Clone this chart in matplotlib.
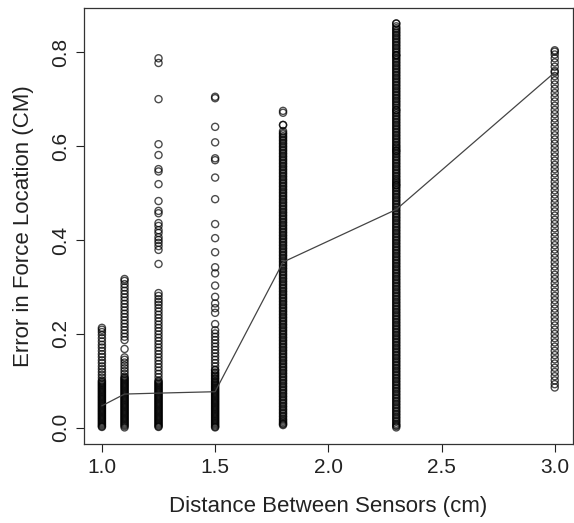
import matplotlib
matplotlib.use("Agg")
import matplotlib.pyplot as plt

plt.rcParams['font.family'] = ['Liberation Sans', 'DejaVu Sans']

# sensor spacing groups (cm) and the error values
spacing = [1.0, 1.1, 1.25, 1.5, 1.8, 2.3, 3.0]
mean_error = [0.047, 0.072, 0.074, 0.077, 0.353, 0.465, 0.757]

err_10 = [0.213, 0.209, 0.204, 0.198, 0.191, 0.184, 0.177, 0.171, 0.164, 0.157,
          0.151, 0.144, 0.138, 0.131, 0.125, 0.119, 0.113, 0.107, 0.101,
          0.096, 0.091, 0.086, 0.081, 0.076, 0.071, 0.066, 0.061, 0.056, 0.051,
          0.046, 0.041, 0.036, 0.031, 0.026, 0.021, 0.016, 0.011, 0.006, 0.002,
          0.0985, 0.0935, 0.0885, 0.0835, 0.0785, 0.0735, 0.0685, 0.0635,
          0.0585, 0.0535, 0.0485, 0.0435, 0.0385, 0.0335, 0.0285, 0.0235,
          0.0185, 0.0135, 0.0085, 0.0035]
err_11 = [0.317, 0.313, 0.306, 0.299, 0.292, 0.285, 0.278, 0.271, 0.264, 0.257,
          0.25, 0.243, 0.236, 0.229, 0.222, 0.215, 0.208, 0.201, 0.194, 0.187,
          0.168, 0.150, 0.145, 0.139, 0.133, 0.127, 0.121, 0.115, 0.109,
          0.104, 0.099, 0.094, 0.089, 0.084, 0.079, 0.074, 0.069, 0.064, 0.059,
          0.054, 0.049, 0.044, 0.039, 0.034, 0.029, 0.024, 0.019, 0.014, 0.009,
          0.004, 0.001,
          0.1065, 0.1015, 0.0965, 0.0915, 0.0865, 0.0815, 0.0765, 0.0715,
          0.0665, 0.0615, 0.0565, 0.0515, 0.0465, 0.0415, 0.0365, 0.0315,
          0.0265, 0.0215, 0.0165, 0.0115, 0.0065]
err_125 = [0.787, 0.777, 0.700, 0.604, 0.581, 0.551, 0.546, 0.519, 0.483, 0.462,
           0.457, 0.436, 0.430, 0.421, 0.415, 0.406, 0.400, 0.394, 0.387, 0.379,
           0.349, 0.287, 0.281, 0.274, 0.268, 0.262, 0.255, 0.248, 0.241, 0.234,
           0.227, 0.220, 0.213, 0.206, 0.199, 0.192, 0.185, 0.178, 0.171, 0.164,
           0.157, 0.150, 0.143, 0.136, 0.129, 0.122, 0.115, 0.108, 0.101,
           0.096, 0.091, 0.086, 0.081, 0.076, 0.071, 0.066, 0.061, 0.056, 0.051,
           0.046, 0.041, 0.036, 0.031, 0.026, 0.021, 0.016, 0.011, 0.006, 0.002,
           0.0985, 0.0935, 0.0885, 0.0835, 0.0785, 0.0735, 0.0685, 0.0635,
           0.0585, 0.0535, 0.0485, 0.0435, 0.0385, 0.0335, 0.0285, 0.0235,
           0.0185, 0.0135, 0.0085, 0.0035]
err_15 = [0.705, 0.702, 0.641, 0.608, 0.574, 0.570, 0.533, 0.487, 0.434, 0.404,
          0.374, 0.342, 0.329, 0.303, 0.279, 0.265, 0.255, 0.245, 0.221, 0.208,
          0.201, 0.194, 0.187, 0.180, 0.173, 0.166, 0.159, 0.152, 0.145, 0.138,
          0.131, 0.124, 0.118, 0.112, 0.106, 0.100,
          0.095, 0.090, 0.085, 0.080, 0.075, 0.070, 0.065, 0.060, 0.055, 0.050,
          0.045, 0.040, 0.035, 0.030, 0.025, 0.020, 0.015, 0.010, 0.005, 0.001,
          0.1225, 0.1155, 0.1095, 0.1035, 0.0975, 0.0925, 0.0875, 0.0825,
          0.0775, 0.0725, 0.0675, 0.0625, 0.0575, 0.0525, 0.0475, 0.0425,
          0.0375, 0.0325, 0.0275, 0.0225, 0.0175, 0.0125, 0.0075, 0.0025]
err_18 = [0.675, 0.671, 0.645, 0.645, 0.632, 0.625, 0.618, 0.611, 0.604, 0.597,
          0.590, 0.583, 0.576, 0.569, 0.562, 0.555, 0.548, 0.541, 0.534, 0.527,
          0.520, 0.513, 0.506, 0.499, 0.492, 0.485, 0.478, 0.471, 0.464, 0.457,
          0.450, 0.443, 0.436, 0.429, 0.422, 0.415, 0.408, 0.401, 0.394, 0.387,
          0.380, 0.373, 0.366, 0.359, 0.352, 0.345, 0.338, 0.331, 0.324, 0.317,
          0.310, 0.303, 0.296, 0.289, 0.282, 0.275, 0.268, 0.261, 0.254, 0.247,
          0.240, 0.233, 0.226, 0.219, 0.212, 0.205, 0.198, 0.191, 0.184, 0.177,
          0.170, 0.163, 0.156, 0.149, 0.142, 0.135, 0.128, 0.121, 0.114, 0.107,
          0.100, 0.093, 0.086, 0.079, 0.072, 0.065, 0.058, 0.051, 0.044, 0.037,
          0.030, 0.023, 0.016, 0.010, 0.006,
          0.628, 0.621, 0.614, 0.607, 0.600, 0.593, 0.586, 0.579, 0.572, 0.565,
          0.558, 0.551, 0.544, 0.537, 0.530, 0.523, 0.516, 0.509, 0.502, 0.495,
          0.488, 0.481, 0.474, 0.467, 0.460, 0.453, 0.446, 0.439, 0.432, 0.425,
          0.418, 0.411, 0.404, 0.397, 0.390, 0.383, 0.376, 0.369, 0.362, 0.355,
          0.348, 0.341, 0.334, 0.327, 0.320, 0.313, 0.306, 0.299, 0.292, 0.285,
          0.278, 0.271, 0.264, 0.257, 0.250, 0.243, 0.236, 0.229, 0.222, 0.215,
          0.208, 0.201, 0.194, 0.187, 0.180, 0.173, 0.166, 0.159, 0.152, 0.145,
          0.138, 0.131, 0.124, 0.117, 0.110, 0.103, 0.096, 0.089, 0.082, 0.075,
          0.068, 0.061, 0.054, 0.047, 0.040, 0.033, 0.026, 0.019, 0.013, 0.008]
err_23 = [0.861, 0.861, 0.855, 0.848, 0.841, 0.834, 0.827, 0.820, 0.813, 0.806,
          0.799, 0.794, 0.794, 0.787, 0.780, 0.773, 0.766, 0.759, 0.752, 0.745,
          0.738, 0.731, 0.724, 0.717, 0.710, 0.703, 0.696, 0.689, 0.682, 0.677,
          0.677, 0.670, 0.663, 0.656, 0.649, 0.642, 0.635, 0.628, 0.621, 0.614,
          0.607, 0.600, 0.594, 0.590, 0.590, 0.583, 0.576, 0.569, 0.562, 0.555,
          0.548, 0.541, 0.534, 0.527, 0.521, 0.517, 0.517, 0.510, 0.503, 0.496,
          0.489, 0.482, 0.475, 0.468, 0.461, 0.454, 0.447, 0.440, 0.433, 0.426,
          0.419, 0.412, 0.405, 0.398, 0.391, 0.384, 0.377, 0.370, 0.363, 0.356,
          0.349, 0.342, 0.335, 0.328, 0.321, 0.314, 0.307, 0.300, 0.293, 0.286,
          0.279, 0.272, 0.265, 0.258, 0.251, 0.244, 0.237, 0.230, 0.223, 0.216,
          0.209, 0.202, 0.195, 0.188, 0.181, 0.174, 0.167, 0.160, 0.153, 0.146,
          0.139, 0.132, 0.125, 0.118, 0.111, 0.104, 0.097, 0.090, 0.083, 0.076,
          0.069, 0.062, 0.055, 0.048, 0.041, 0.034, 0.027, 0.020, 0.013, 0.006,
          0.001,
          0.851, 0.844, 0.837, 0.830, 0.823, 0.816, 0.809, 0.802, 0.791, 0.784,
          0.777, 0.770, 0.763, 0.756, 0.749, 0.742, 0.735, 0.728, 0.721, 0.714,
          0.707, 0.700, 0.693, 0.686, 0.673, 0.666, 0.659, 0.652, 0.645, 0.638,
          0.631, 0.624, 0.617, 0.610, 0.603, 0.597, 0.586, 0.579, 0.572, 0.565,
          0.558, 0.551, 0.544, 0.537, 0.530, 0.524, 0.513, 0.506, 0.499, 0.492,
          0.485, 0.478, 0.471, 0.464, 0.457, 0.450, 0.443, 0.436, 0.429, 0.422,
          0.415, 0.408, 0.401, 0.394, 0.387, 0.380, 0.373, 0.366, 0.359, 0.352,
          0.345, 0.338, 0.331, 0.324, 0.317, 0.310, 0.303, 0.296, 0.289, 0.282,
          0.275, 0.268, 0.261, 0.254, 0.247, 0.240, 0.233, 0.226, 0.219, 0.212,
          0.205, 0.198, 0.191, 0.184, 0.177, 0.170, 0.163, 0.156, 0.149, 0.142,
          0.135, 0.128, 0.121, 0.114, 0.107, 0.100, 0.093, 0.086, 0.079, 0.072,
          0.065, 0.058, 0.051, 0.044, 0.037, 0.030, 0.023, 0.016, 0.009, 0.004]
err_30 = [0.804, 0.801, 0.795, 0.787, 0.778, 0.769, 0.760, 0.757, 0.749, 0.740,
          0.731, 0.722, 0.713, 0.704, 0.695, 0.686, 0.677, 0.668, 0.659, 0.650,
          0.641, 0.632, 0.623, 0.614, 0.605, 0.596, 0.587, 0.578, 0.569, 0.560,
          0.551, 0.542, 0.533, 0.524, 0.515, 0.506, 0.497, 0.488, 0.479, 0.470,
          0.461, 0.452, 0.443, 0.434, 0.425, 0.416, 0.407, 0.398, 0.389, 0.380,
          0.371, 0.362, 0.353, 0.344, 0.335, 0.326, 0.317, 0.308, 0.299, 0.290,
          0.281, 0.272, 0.263, 0.254, 0.245, 0.236, 0.227, 0.218, 0.209, 0.200,
          0.191, 0.182, 0.173, 0.164, 0.155, 0.146, 0.137, 0.128, 0.119, 0.110,
          0.101, 0.093, 0.086]

groups = [err_10, err_11, err_125, err_15, err_18, err_23, err_30]

fig = plt.figure(figsize=(5.74, 5.23), dpi=100)
ax = fig.add_axes([0.146, 0.151, 0.852, 0.834])

for x, vals in zip(spacing, groups):
    ax.scatter([x] * len(vals), vals, s=26, facecolors='none',
               edgecolors=(0, 0, 0, 0.7), linewidths=1.0)

ax.plot(spacing, mean_error, color='#444444', linewidth=0.9)

ax.set_xlim(0.92, 3.08)
ax.set_ylim(-0.0344, 0.8944)
ax.set_xticks([1.0, 1.5, 2.0, 2.5, 3.0])
ax.set_xticklabels(['1.0', '1.5', '2.0', '2.5', '3.0'])
ax.set_yticks([0.0, 0.2, 0.4, 0.6, 0.8])
ax.set_yticklabels(['0.0', '0.2', '0.4', '0.6', '0.8'], rotation=90, va='center')
ax.tick_params(axis='both', length=6, width=0.8, labelsize=15, pad=4,
               colors='#222222')
for s in ax.spines.values():
    s.set_linewidth(0.9)
    s.set_color('#333333')

ax.set_xlabel('Distance Between Sensors (cm)', fontsize=16, labelpad=14,
              color='#222222')
ax.set_ylabel('Error in Force Location (CM)', fontsize=16, labelpad=12,
              color='#222222')

fig.savefig('out.png', dpi=100)
